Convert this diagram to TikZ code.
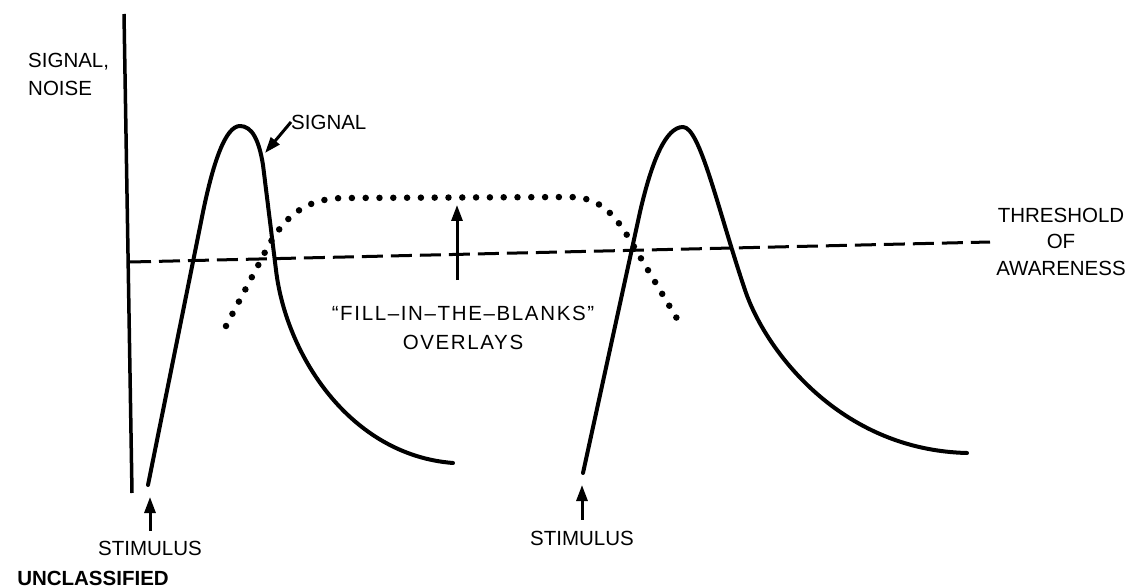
\documentclass[tikz,border=0pt]{standalone}
\usepackage{fontspec}
\setmainfont{Liberation Sans}
\usetikzlibrary{arrows.meta}
\begin{document}
\begin{tikzpicture}[x=1pt,y=-1pt,
  curve/.style={line width=4pt, line cap=round, line join=round},
  axisline/.style={line width=3.5pt},
  thresh/.style={line width=3pt, dash pattern=on 21pt off 8pt},
  dotline/.style={line width=6.5pt, line cap=round, dash pattern=on 0pt off 13.8pt},
  arr/.style={line width=3pt, -{Triangle[length=16pt,width=11pt]}},
  lbl/.style={font=\fontsize{20.5}{28}\selectfont, inner sep=0pt}]
\useasboundingbox (0,0) rectangle (1130,588);
% axis
\draw[axisline] (124,14) -- (132,493);
% threshold of awareness
\draw[thresh] (130,262) -- (990,242);
% fill-in-the-blanks overlay
\draw[dotline] (226,326) -- (262,258) .. controls (280,222) and (300,198) .. (345,198)
  -- (570,197) .. controls (600,197) and (615,215) .. (630,240) -- (679,322);
% signal 1
\draw[curve] (148,485) -- (201,222) .. controls (213,160) and (226,126) .. (240,126)
  .. controls (252,126) and (259,140) .. (263,165) -- (276,270)
  .. controls (286,355) and (350,455) .. (453,463);
% signal 2
\draw[curve] (583,473) -- (640,212) .. controls (652,160) and (666,127) .. (683,127)
  .. controls (700,127) and (718,210) .. (745,290)
  .. controls (765,350) and (840,450) .. (967,453);
% labels
\node[lbl, anchor=north west, align=left] (sn) at (28,52.6) {SIGNAL,\\NOISE};
\node[lbl, anchor=west] (siglbl) at (291,122) {SIGNAL};
\coordinate (sigtip) at (265,153);
\draw[arr] (siglbl.west) -- (sigtip);
\node[lbl] (stim1) at (150,548) {STIMULUS};
\coordinate (s1tip) at (150,497);
\draw[arr, shorten <=10pt] (stim1.north) -- (s1tip);
\node[lbl] (stim2) at (582,538) {STIMULUS};
\coordinate (s2tip) at (582,485);
\draw[arr, shorten <=10.6pt] (stim2.north) -- (s2tip);
\node[lbl, font=\bfseries\fontsize{20.5}{21}\selectfont] (uncl) at (93,578) {UNCLASSIFIED};
\node[lbl, align=center, anchor=north, font=\fontsize{20.5}{29}\selectfont\addfontfeatures{LetterSpace=8}] (fill) at (463,305.6)
  {``FILL--IN--THE--BLANKS''\\OVERLAYS};
\coordinate (filltip) at (457,205);
\draw[arr, shorten <=25.6pt] (fill.north -| filltip) -- (filltip);
\node[lbl, align=center, anchor=north, font=\fontsize{20.5}{26.5}\selectfont] (thr) at (1061,207.7)
  {THRESHOLD\\OF\\AWARENESS};
\end{tikzpicture}
\end{document}
